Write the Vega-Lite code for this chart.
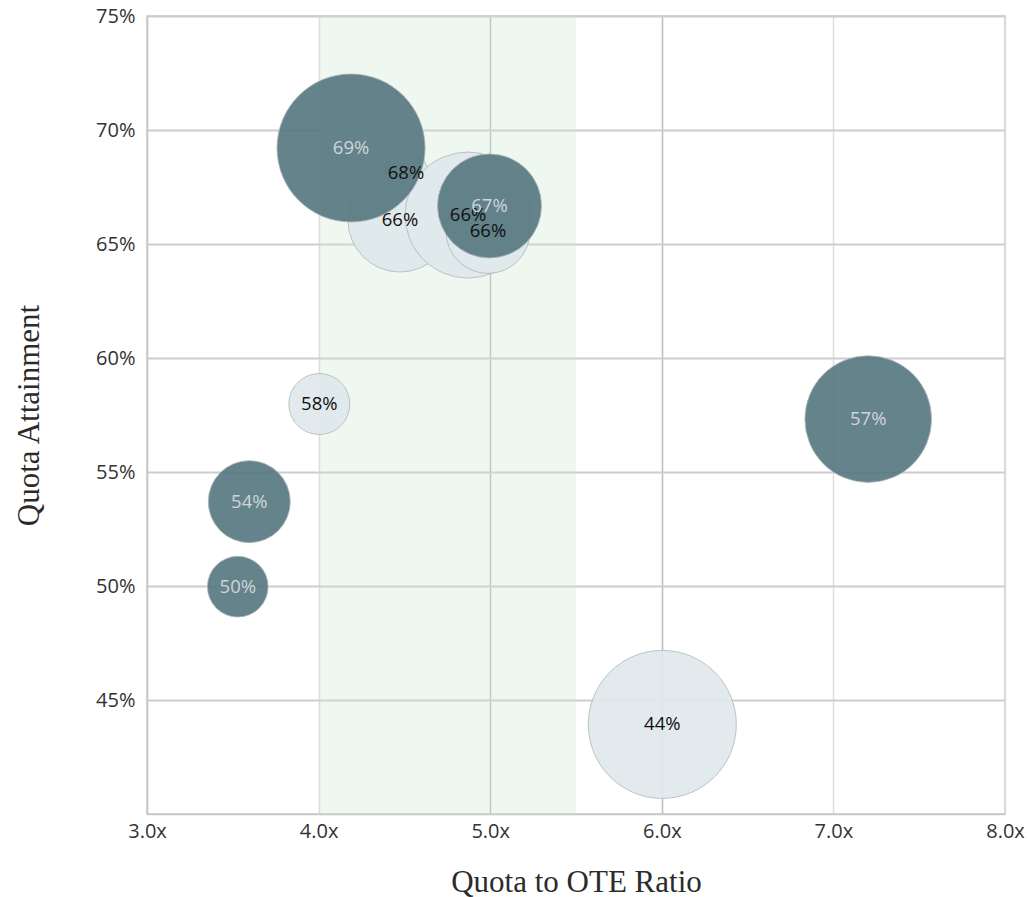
{
  "$schema": "https://vega.github.io/schema/vega-lite/v6.json",
  "width": 858,
  "height": 798,
  "autosize": "none",
  "padding": {"left": 147, "top": 16, "right": 25, "bottom": 83},
  "background": "white",
  "config": {
    "view": {"stroke": "#c8c8c8", "strokeWidth": 1.5},
    "axis": {
      "labelFont": "Open Sans",
      "labelFontSize": 20,
      "labelColor": "#333333",
      "titleFont": "Liberation Serif",
      "titleFontSize": 31,
      "titleFontWeight": "normal",
      "titleColor": "#2b2b2b",
      "ticks": false,
      "domainColor": "#c8c8c8",
      "domainWidth": 1.5,
      "labelFlush": false
    }
  },
  "datasets": {
    "band": [{"from": 4.0, "to": 5.5}],
    "bubbles": [
      {"ratio": 4.509, "attainment": 0.6811, "reps": 4.8, "group": "light"},
      {"ratio": 4.474, "attainment": 0.6605, "reps": 27.0, "group": "light"},
      {"ratio": 4.871, "attainment": 0.6627, "reps": 39.7, "group": "light"},
      {"ratio": 4.987, "attainment": 0.6555, "reps": 17.6, "group": "light"},
      {"ratio": 4.004, "attainment": 0.5798, "reps": 9.3, "group": "light"},
      {"ratio": 6.003, "attainment": 0.4393, "reps": 54.8, "group": "light"},
      {"ratio": 4.189, "attainment": 0.6921, "reps": 54.8, "group": "dark"},
      {"ratio": 4.996, "attainment": 0.6667, "reps": 27.0, "group": "dark"},
      {"ratio": 3.596, "attainment": 0.5370, "reps": 16.8, "group": "dark"},
      {"ratio": 3.529, "attainment": 0.4997, "reps": 9.2, "group": "dark"},
      {"ratio": 7.203, "attainment": 0.5732, "reps": 40.1, "group": "dark"}
    ]
  },
  "layer": [
    {
      "data": {"name": "band"},
      "mark": {"type": "rect", "fill": "#c8e6cc", "opacity": 0.3},
      "encoding": {
        "x": {"field": "from", "type": "quantitative", "scale": {"domain": [3, 8], "nice": false, "zero": false}},
        "x2": {"field": "to"}
      }
    },
    {
      "data": {"name": "bubbles"},
      "mark": {"type": "circle", "opacity": 0.93, "stroke": "#a9b2b5", "strokeWidth": 0.8},
      "encoding": {
        "x": {
          "field": "ratio", "type": "quantitative",
          "scale": {"domain": [3, 8], "nice": false, "zero": false},
          "axis": {
            "title": "Quota to OTE Ratio",
            "values": [3, 4, 5, 6, 7, 8],
            "labelExpr": "format(datum.value, '.1f') + 'x'",
            "labelPadding": 7,
            "titlePadding": 26,
            "gridWidth": 1.5,
            "gridColor": {"condition": {"test": "datum.value == 5 || datum.value == 6", "value": "#bdbdbd"}, "value": "#dedede"}
          }
        },
        "y": {
          "field": "attainment", "type": "quantitative",
          "scale": {"domain": [0.40, 0.75], "nice": false, "zero": false},
          "axis": {
            "title": "Quota Attainment",
            "values": [0.45, 0.5, 0.55, 0.6, 0.65, 0.7, 0.75],
            "format": ".0%",
            "labelPadding": 12,
            "titlePadding": 50,
            "gridColor": "#cdcdcd",
            "gridWidth": 2
          }
        },
        "size": {"field": "reps", "type": "quantitative", "scale": {"domain": [0, 100], "range": [0, 40000]}, "legend": null},
        "fill": {"field": "group", "type": "nominal", "scale": {"domain": ["light", "dark"], "range": ["#e0e9ec", "#5a7a82"]}, "legend": null}
      }
    },
    {
      "data": {"name": "bubbles"},
      "mark": {"type": "text", "font": "Open Sans", "fontSize": 18.5},
      "encoding": {
        "x": {"field": "ratio", "type": "quantitative"},
        "y": {"field": "attainment", "type": "quantitative"},
        "text": {"field": "attainment", "type": "quantitative", "format": ".0%"},
        "color": {"condition": {"test": "datum.group === 'dark'", "value": "#cdd6d9"}, "value": "#111111"}
      }
    }
  ]
}
